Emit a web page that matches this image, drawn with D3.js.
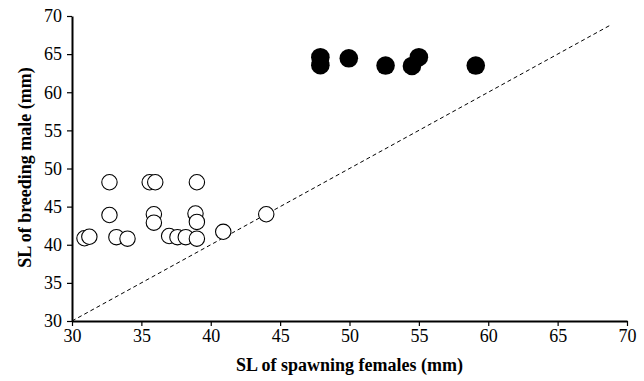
<!DOCTYPE html>
<html>
<head>
<meta charset="utf-8">
<script src="https://cdn.jsdelivr.net/npm/d3@7"></script>
<style>
  body { margin: 0; background: #fff; }
  text { font-family: "Liberation Serif", "Times New Roman", serif; }
</style>
</head>
<body>
<svg id="chart" width="644" height="381"></svg>
<script>
// open circles
const openX = [32.7, 35.6, 36.0, 39.0, 32.7, 35.9, 35.9, 38.9, 39.0, 44.0, 40.9,
               30.9, 31.25, 33.2, 34.0, 37.0, 37.6, 38.2, 39.0];
const openY = [48.2, 48.2, 48.2, 48.2, 43.9, 44.0, 42.9, 44.1, 43.0, 44.0, 41.7,
               40.85, 41.05, 41.0, 40.8, 41.15, 41.0, 41.0, 40.8];
// filled circles
const fillX = [47.9, 47.9, 49.95, 52.6, 54.5, 55.0, 59.1];
const fillY = [64.6, 63.55, 64.45, 63.5, 63.45, 64.6, 63.5];
const xTicks = [30, 35, 40, 45, 50, 55, 60, 65, 70];
const yTicks = [30, 35, 40, 45, 50, 55, 60, 65, 70];
const lineEnds = [30, 68.8];

const margin = { top: 16, right: 17, bottom: 60, left: 72 };
const width = 644 - margin.left - margin.right;
const height = 381 - margin.top - margin.bottom;

const svg = d3.select("#chart")
  .append("g")
  .attr("transform", "translate(" + margin.left + "," + margin.top + ")");

const x = d3.scaleLinear().domain([30, 70]).range([0, width]);
const y = d3.scaleLinear().domain([30, 70]).range([height, 0]);

// 1:1 dashed line
svg.append("line")
  .attr("x1", x(lineEnds[0])).attr("y1", y(lineEnds[0]))
  .attr("x2", x(lineEnds[1])).attr("y2", y(lineEnds[1]))
  .attr("stroke", "#000")
  .attr("stroke-width", 1)
  .attr("stroke-dasharray", "4,3");

// x axis
const xAxis = svg.append("g")
  .attr("transform", "translate(0," + height + ")")
  .call(d3.axisBottom(x).tickValues(xTicks).tickSize(5).tickSizeOuter(0));
xAxis.select(".domain").attr("stroke-width", 2);
xAxis.selectAll(".tick line").attr("stroke-width", 1.2);
xAxis.selectAll("text").style("font-size", "18px").attr("fill", "#000");

// y axis
const yAxis = svg.append("g")
  .call(d3.axisLeft(y).tickValues(yTicks).tickSize(5).tickSizeOuter(0));
yAxis.select(".domain").attr("stroke-width", 2);
yAxis.selectAll(".tick line").attr("stroke-width", 1.2);
yAxis.selectAll("text").style("font-size", "18px").attr("x", -10).attr("fill", "#000");

// open circles
svg.selectAll("circle.open")
  .data(openX)
  .enter()
  .append("circle")
  .attr("class", "open")
  .attr("cx", (d, i) => x(d))
  .attr("cy", (d, i) => y(openY[i]))
  .attr("r", 7.7)
  .attr("fill", "#fff")
  .attr("stroke", "#000")
  .attr("stroke-width", 1.1);

// filled circles
svg.selectAll("circle.filled")
  .data(fillX)
  .enter()
  .append("circle")
  .attr("class", "filled")
  .attr("cx", (d, i) => x(d))
  .attr("cy", (d, i) => y(fillY[i]))
  .attr("r", 9.3)
  .attr("fill", "#000");

// axis titles
svg.append("text")
  .attr("x", width / 2)
  .attr("y", height + 50)
  .attr("text-anchor", "middle")
  .style("font-size", "18px")
  .style("font-weight", "bold")
  .text("SL of spawning females (mm)");

svg.append("text")
  .attr("transform", "rotate(-90)")
  .attr("x", -(height / 2) + 1)
  .attr("y", -41)
  .attr("text-anchor", "middle")
  .style("font-size", "18px")
  .style("font-weight", "bold")
  .text("SL of breeding male (mm)");
</script>
</body>
</html>
